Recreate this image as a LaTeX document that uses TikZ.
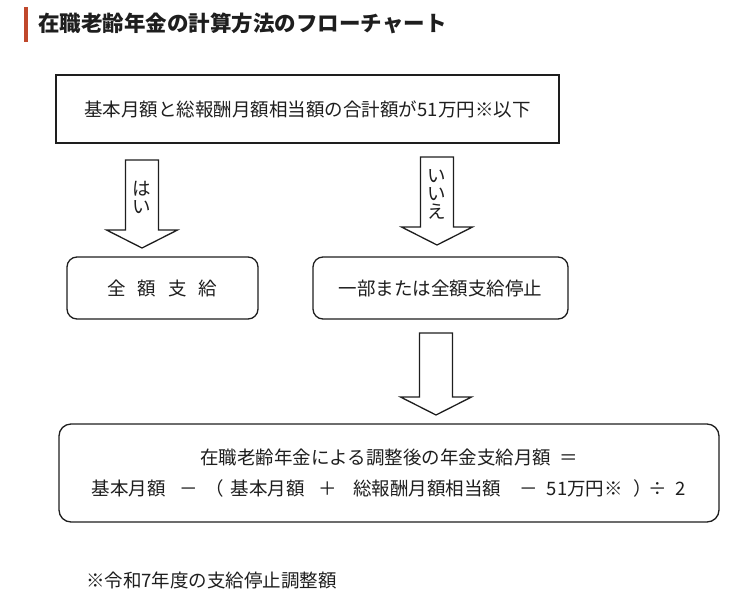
\documentclass[tikz,border=0pt]{standalone}
\usepackage{fontspec}
\setmainfont{Noto Sans CJK JP}
\usepackage{xcolor}
\usetikzlibrary{positioning, calc}
\definecolor{barred}{RGB}{192,72,44}
\definecolor{ink}{RGB}{30,30,30}
\tikzset{
	every node/.style={
		align=center,
		text=ink,
	},
	flowbox/.style={draw=ink, line width=1.3pt, fill=white, outer sep=0pt, inner sep=0pt, font=\fontsize{18.5}{31}\selectfont},
	roundbox/.style={flowbox, rounded corners=10pt},
	bigarrow/.style={draw=ink, line width=1.3pt, fill=white, line join=miter},
	arrowlabel/.style={inner sep=0pt, font=\fontsize{18.5}{18}\selectfont},
}
% hollow block arrow from the tail centre #1 to the tip #2
\newcommand{\bigarrow}[2]{%
	\draw[bigarrow] ($(#1)+(-16.5,0)$) -- ($(#1)+(16.5,0)$) -- ($(#2)+(16.5,-18)$) -- ($(#2)+(35.5,-18)$) -- (#2) -- ($(#2)+(-35.5,-18)$) -- ($(#2)+(-16.5,-18)$) -- cycle;
}

\begin{document}
\begin{tikzpicture}[x=1pt, y=-1pt]
	\useasboundingbox (0,0) rectangle (754,589);
	% title
	\fill[barred] (24,7) rectangle (28,42);
	\node[anchor=west, inner sep=0pt, font=\bfseries\fontsize{21.5}{24}\selectfont] (title) at (38,23) {在職老齢年金の計算方法のフローチャート};
	% boxes
	\node[flowbox, minimum width=503pt, minimum height=68pt] (total) at (307.5,109) {基本月額と総報酬月額相当額の合計額が51万円※以下};
	\node[roundbox, minimum width=191pt, minimum height=62pt, below=114pt of total, xshift=-145pt] (full) {全\hspace{12pt}額\hspace{12pt}支\hspace{12pt}給};
	\node[roundbox, minimum width=255pt, minimum height=62pt, below=114pt of total, xshift=133pt] (stop) {一部または全額支給停止};
	\node[roundbox, rounded corners=12pt, minimum width=660pt, minimum height=98pt, below=105pt of stop, xshift=-51.5pt] (calc) {在職老齢年金による調整後の年金支給月額\hspace{8pt}＝\\基本月額\hspace{14pt}－\hspace{7pt}（\hspace{7pt}基本月額\hspace{14pt}＋\hspace{16pt}総報酬月額相当額\hspace{18pt}－\hspace{9pt}51万円※\hspace{11pt}）\hspace{-4pt}÷\hspace{9pt}2};
	\node[anchor=west, inner sep=0pt, font=\fontsize{18.5}{20}\selectfont] (note) at (86,580) {※令和7年度の支給停止調整額};
	% arrows
	\coordinate (yes tail) at (142,160);
	\coordinate (yes tip) at (142,248);
	\coordinate (no tail) at (437,157);
	\coordinate (no tip) at (437,245);
	\coordinate (calc tail) at (436,333);
	\coordinate (calc tip) at (436,415);
	\bigarrow{yes tail}{yes tip}
	\bigarrow{no tail}{no tip}
	\bigarrow{calc tail}{calc tip}
	\node[arrowlabel] (yes) at (142,197) {は\\い};
	\node[arrowlabel] (no) at (437,194) {い\\い\\え};
\end{tikzpicture}
\end{document}
